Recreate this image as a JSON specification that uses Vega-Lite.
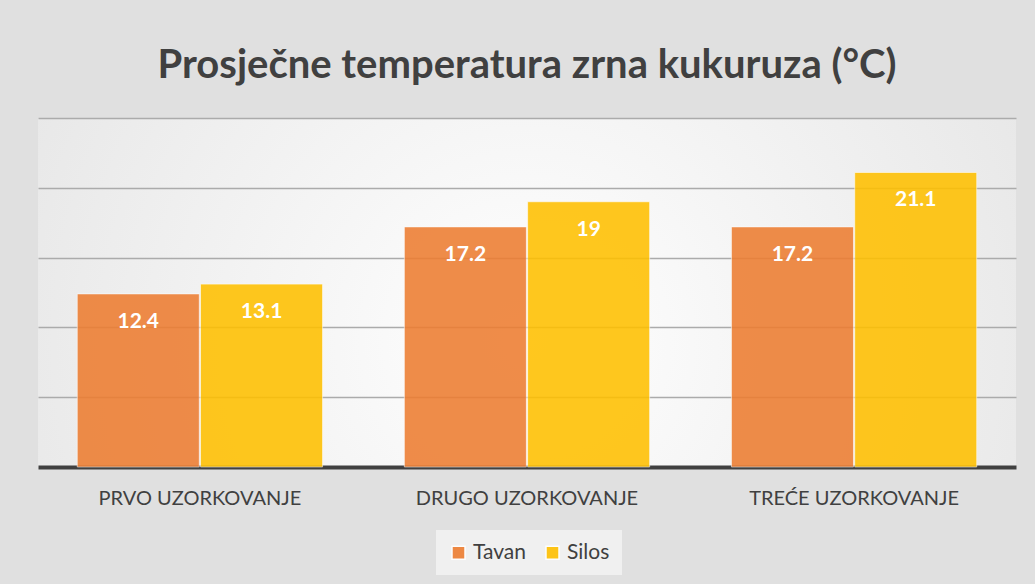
{
  "$schema": "https://vega.github.io/schema/vega-lite/v6.json",
  "width": 978,
  "height": 349,
  "autosize": {"type": "none"},
  "padding": {"left": 38, "top": 118, "right": 19, "bottom": 117},
  "background": "#e0e0e0",
  "title": {
    "text": "Prosječne temperatura zrna kukuruza (°C)",
    "font": "Lato",
    "fontSize": 40,
    "fontWeight": "bold",
    "color": "#404040",
    "anchor": "middle",
    "offset": 32
  },
  "data": {
    "values": [
      {"uzorkovanje": "PRVO UZORKOVANJE", "mjesto": "Tavan", "temp": 12.4},
      {"uzorkovanje": "PRVO UZORKOVANJE", "mjesto": "Silos", "temp": 13.1},
      {"uzorkovanje": "DRUGO UZORKOVANJE", "mjesto": "Tavan", "temp": 17.2},
      {"uzorkovanje": "DRUGO UZORKOVANJE", "mjesto": "Silos", "temp": 19},
      {"uzorkovanje": "TREĆE UZORKOVANJE", "mjesto": "Tavan", "temp": 17.2},
      {"uzorkovanje": "TREĆE UZORKOVANJE", "mjesto": "Silos", "temp": 21.1}
    ]
  },
  "encoding": {
    "x": {
      "field": "uzorkovanje",
      "type": "nominal",
      "sort": ["PRVO UZORKOVANJE", "DRUGO UZORKOVANJE", "TREĆE UZORKOVANJE"],
      "scale": {"paddingInner": 0.25, "paddingOuter": 0.12},
      "axis": {
        "title": null,
        "labelAngle": 0,
        "labelFont": "Lato",
        "labelFontSize": 20,
        "labelColor": "#404040",
        "labelPadding": 21,
        "labelLimit": 0,
        "ticks": false,
        "domain": true,
        "domainColor": "#404040",
        "domainWidth": 4
      }
    },
    "xOffset": {
      "field": "mjesto",
      "type": "nominal",
      "sort": ["Tavan", "Silos"],
      "scale": {"paddingInner": 0.01}
    },
    "y": {
      "field": "temp",
      "type": "quantitative",
      "scale": {"domain": [0, 25]},
      "axis": {
        "title": null,
        "labels": false,
        "ticks": false,
        "domain": false,
        "values": [5, 10, 15, 20, 25],
        "grid": true,
        "gridColor": "#ababab",
        "gridWidth": 1.5
      }
    }
  },
  "layer": [
    {
      "mark": {"type": "bar", "opacity": 0.88, "stroke": "#ffffff", "strokeOpacity": 0.6, "strokeWidth": 1},
      "encoding": {
        "color": {
          "field": "mjesto",
          "type": "nominal",
          "sort": ["Tavan", "Silos"],
          "scale": {"range": ["#ed7d31", "#ffc000"]},
          "legend": {
            "title": null,
            "orient": "none",
            "legendX": 398,
            "legendY": 412,
            "direction": "horizontal",
            "symbolType": "square",
            "symbolSize": 170,
            "symbolOpacity": 0.9,
            "labelFont": "Lato",
            "labelFontSize": 21,
            "labelColor": "#404040",
            "columnPadding": 16,
            "labelOffset": 4,
            "fillColor": "#f0f0f0",
            "padding": 12
          }
        }
      }
    },
    {
      "mark": {"type": "text", "color": "#ffffff", "font": "Lato", "fontWeight": "bold", "fontSize": 21, "baseline": "middle", "dy": 28},
      "encoding": {"text": {"field": "temp", "type": "quantitative"}}
    }
  ],
  "config": {
    "view": {
      "stroke": null,
      "fill": {
        "gradient": "radial",
        "x1": 0.5, "y1": 0.55, "r1": 0,
        "x2": 0.5, "y2": 0.55, "r2": 0.75,
        "stops": [
          {"offset": 0, "color": "#ffffff"},
          {"offset": 1, "color": "#e0e0e0"}
        ]
      }
    }
  }
}
